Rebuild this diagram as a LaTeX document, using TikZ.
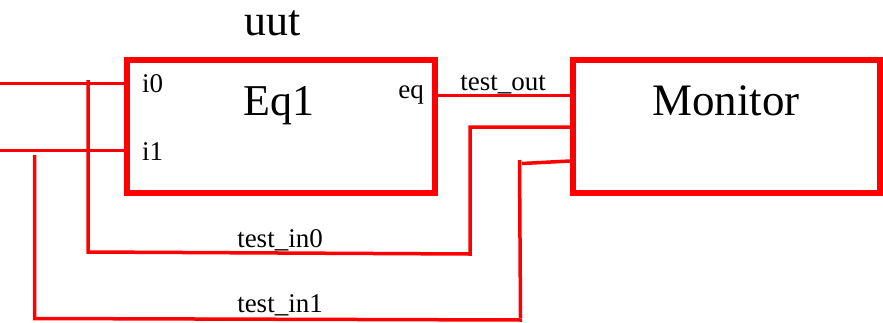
\documentclass[tikz,border=0pt]{standalone}
\usepackage{fontspec}
\setmainfont{Liberation Serif}
\begin{document}
\begin{tikzpicture}[x=1pt,y=-1pt,
  blockbox/.style={draw=red,line width=6pt,minimum width=308pt,minimum height=133pt,inner sep=0pt},
  wire/.style={draw=red,line width=3.5pt},
  bigtxt/.style={font=\fontsize{44}{48}\selectfont,anchor=base,inner sep=0pt},
  smalltxt/.style={font=\fontsize{27}{30}\selectfont,anchor=base,inner sep=0pt}]
\useasboundingbox (0,0) rectangle (883,322);
\node[blockbox] (eq1) at (281,126.5) {};
\node[blockbox,minimum width=307pt] (mon) at (726.5,126.5) {};
\node[bigtxt] (uuttxt) at (273,35) {uut};
\node[bigtxt] (eqtxt) at (279,115) {Eq1};
\node[bigtxt,font=\fontsize{45}{48}\selectfont] (montxt) at (726,115) {Monitor};
\node[smalltxt,anchor=base west] (i0txt) at (142,92) {i0};
\node[smalltxt,anchor=base west] (i1txt) at (142,160) {i1};
\node[smalltxt,anchor=base east] (eqport) at (424,98) {eq};
\node[smalltxt] (touttxt) at (503,90) {test\_out};
\node[smalltxt] (ti0txt) at (280,247) {test\_in0};
\node[smalltxt] (ti1txt) at (280,312) {test\_in1};
% coordinates
\coordinate (i0L) at (0,83.5);
\coordinate (i1L) at (0,150.5);
\coordinate (a1) at (88,80);
\coordinate (a2) at (88,252);
\coordinate (a3) at (470,254);
\coordinate (a4) at (470,127);
\coordinate (b1) at (34.5,155);
\coordinate (b2) at (34.5,318.5);
\coordinate (b3) at (522,320);
\coordinate (b4) at (519.5,160);
\coordinate (c1) at (522,163.5);
% wires
\draw[wire] (i0L) -- (eq1.west |- i0L);
\draw[wire] (i1L) -- (eq1.west |- i1L);
\draw[wire] (eq1.east |- 0,95.5) -- (mon.west |- 0,95.5);
\draw[wire] (a1) -- (a2) -- (a3) -- (a4) -- (mon.west |- a4);
\draw[wire] (b1) -- (b2) -- (b3);
\draw[wire] (520.5,318) -- (b4);
\draw[wire] (c1) -- (mon.west |- 0,161);
\end{tikzpicture}
\end{document}
